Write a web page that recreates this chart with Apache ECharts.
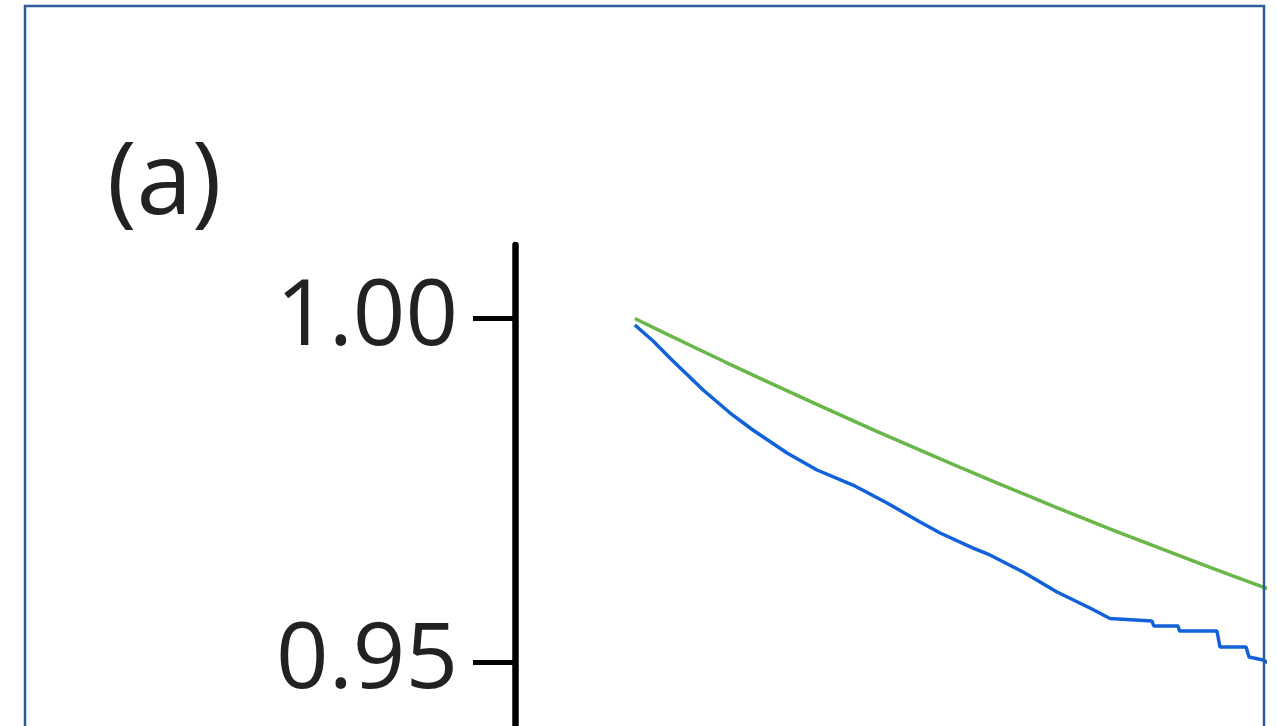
<!DOCTYPE html>
<html>
<head>
<meta charset="utf-8">
<title>(a)</title>
<script src="https://cdn.jsdelivr.net/npm/echarts@6/dist/echarts.min.js"></script>
<style>
  html, body { margin: 0; padding: 0; background: #ffffff; overflow: hidden; }
  #chart { width: 1276px; height: 1400px; }
</style>
</head>
<body>
<div id="chart"></div>
<script>
// Panel label and y-axis tick values
const panelLabel = '(a)';
const yTickValues = [0.85, 0.90, 0.95, 1.00];

// Green curve (smooth, gently flattening decay)
const greenX = [40, 50, 60, 70, 80, 90, 100, 110, 120, 130, 140, 150, 160, 170, 180, 190, 200, 210, 220, 230, 240, 250, 260];
const greenVals = [1.00000, 0.99787, 0.99578, 0.99370, 0.99166, 0.98964, 0.98764, 0.98567, 0.98373, 0.98182, 0.97993,
                   0.97806, 0.97623, 0.97442, 0.97263, 0.97087, 0.96914, 0.96744, 0.96576, 0.96410, 0.96247, 0.96087, 0.95930];

// Blue curve (faster decay, stepped tail)
const blueX = [40, 46.1, 51.7, 62.8, 71.8, 79.4, 90.8, 100.8, 112.8, 124.2, 135.2, 141.9, 152.9, 158.5, 169.6, 180.9,
               191.9, 198.6, 212.6, 213.2, 221.3, 221.8, 234.3, 235.3, 244.0, 245.0, 249.7, 252.0];
const blueVals = [0.99905, 0.99672, 0.99425, 0.98959, 0.98624, 0.98377, 0.98042, 0.97795, 0.97576, 0.97314, 0.97038,
                  0.96878, 0.96659, 0.96558, 0.96310, 0.96019, 0.95786, 0.95633, 0.95597, 0.95524, 0.95524,
                  0.95451, 0.95451, 0.95218, 0.95218, 0.95072, 0.95029, 0.94971];

const zip = (xs, ys) => xs.map((x, i) => [x, ys[i]]);

const chart = echarts.init(document.getElementById('chart'), null, { renderer: 'canvas' });

const yMin = 0.85;
const yMax = 1.0107;
const pxPerUnit = 6870;
const labelFont = '"Open Sans", "Noto Sans", sans-serif';

chart.setOption({
  animation: false,
  backgroundColor: '#ffffff',
  grid: {
    left: 515,
    right: 12,
    top: 245,
    height: (yMax - yMin) * pxPerUnit,
    containLabel: false
  },
  xAxis: {
    type: 'value',
    min: 0,
    max: 250,
    show: false
  },
  yAxis: {
    type: 'value',
    min: yMin,
    max: yMax,
    splitLine: { show: false },
    axisLine: { show: true, lineStyle: { color: '#000000', width: 6.5 } },
    axisTick: {
      show: true,
      customValues: yTickValues,
      length: 42,
      lineStyle: { color: '#000000', width: 5 }
    },
    axisLabel: {
      show: true,
      customValues: yTickValues,
      margin: 57,
      fontSize: 92,
      fontFamily: labelFont,
      color: '#222222',
      formatter: v => v.toFixed(2)
    }
  },
  graphic: [
    {
      type: 'rect',
      shape: { x: 25, y: 6, width: 1239, height: 1500 },
      style: { fill: 'none', stroke: '#2e5b97', lineWidth: 2.5 },
      silent: true,
      z: 10
    },
    {
      type: 'text',
      left: 107,
      top: 136,
      style: {
        text: panelLabel,
        fontSize: 100,
        fontFamily: labelFont,
        fill: '#222222'
      },
      silent: true
    }
  ],
  series: [
    {
      type: 'line',
      data: zip(greenX, greenVals),
      showSymbol: false,
      symbol: 'none',
      lineStyle: { color: '#68b748', width: 3.5 },
      clip: true,
      z: 2
    },
    {
      type: 'line',
      data: zip(blueX, blueVals),
      showSymbol: false,
      symbol: 'none',
      lineStyle: { color: '#1162d8', width: 3.5 },
      clip: true,
      z: 3
    }
  ]
});
</script>
</body>
</html>
